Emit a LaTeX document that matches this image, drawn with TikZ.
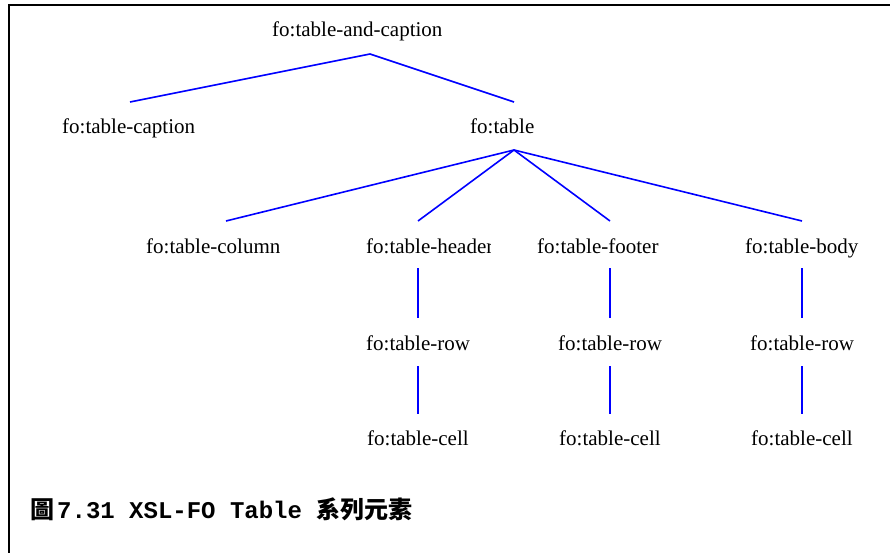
\documentclass[tikz,border=0pt]{standalone}
\usepackage{fontspec}
\setmainfont{Liberation Serif}
\newfontfamily\capmono{Liberation Mono}
\newfontfamily\capcjk{Noto Sans CJK TC}
\begin{document}
\begin{tikzpicture}[x=1pt,y=-1pt,
  lbl/.style={anchor=base west, inner sep=0pt, font=\fontsize{21}{21}\selectfont},
  edge/.style={draw=blue, line width=1.6pt},
  frame/.style={draw=black, line width=2pt}]
\useasboundingbox (0,0) rectangle (890,553);
% frame
\coordinate (fTR) at (890,5);
\coordinate (fTL) at (8.5,5);
\coordinate (fBL) at (8.5,553);
\draw[frame] (fTR) -- (fTL) -- (fBL);
% labels
\node[lbl] (root) at (272,37) {fo:table-and-caption};
\node[lbl] (caption) at (62,134) {fo:table-caption};
\node[lbl] (table) at (470,134) {fo:table};
\node[lbl] (column) at (146,253) {fo:table-column};
\begin{scope}
  \clip (360,225) rectangle (490.5,265);
  \node[lbl] (header) at (366,253) {fo:table-header};
\end{scope}
\node[lbl] (footer) at (537,253) {fo:table-footer};
\node[lbl] (body) at (745,253) {fo:table-body};
\node[lbl] (hrow) at (366,350) {fo:table-row};
\node[lbl] (frow) at (558,350) {fo:table-row};
\node[lbl] (brow) at (750,350) {fo:table-row};
\node[lbl] (hcell) at (367,445) {fo:table-cell};
\node[lbl] (fcell) at (559,445) {fo:table-cell};
\node[lbl] (bcell) at (751,445) {fo:table-cell};
% connector end points
\coordinate (rootJ) at (370,54);
\coordinate (captionT) at (130,102);
\coordinate (tableT) at (514,102);
\coordinate (tableJ) at (514,150);
\coordinate (columnT) at (226,221);
\coordinate (headerT) at (418,221);
\coordinate (footerT) at (610,221);
\coordinate (bodyT) at (802,221);
\coordinate (headerB) at (418,268);
\coordinate (footerB) at (610,268);
\coordinate (bodyB) at (802,268);
\coordinate (hrowT) at (418,318);
\coordinate (frowT) at (610,318);
\coordinate (browT) at (802,318);
\coordinate (hrowB) at (418,366);
\coordinate (frowB) at (610,366);
\coordinate (browB) at (802,366);
\coordinate (hcellT) at (418,414);
\coordinate (fcellT) at (610,414);
\coordinate (bcellT) at (802,414);
% connectors
\draw[edge] (captionT) -- (rootJ) -- (tableT);
\draw[edge] (tableJ) -- (columnT);
\draw[edge] (tableJ) -- (headerT);
\draw[edge] (tableJ) -- (footerT);
\draw[edge] (tableJ) -- (bodyT);
\draw[edge] (headerB) -- (hrowT);
\draw[edge] (footerB) -- (frowT);
\draw[edge] (bodyB) -- (browT);
\draw[edge] (hrowB) -- (hcellT);
\draw[edge] (frowB) -- (fcellT);
\draw[edge] (browB) -- (bcellT);
% figure caption
\node[anchor=base west, inner sep=0pt] (figcap) at (30,518)
  {\fontsize{24}{24}\selectfont\bfseries{\capcjk 圖}\hspace{3pt}{\capmono 7.31 XSL-FO Table }{\capcjk 系列元素}};
\end{tikzpicture}
\end{document}
